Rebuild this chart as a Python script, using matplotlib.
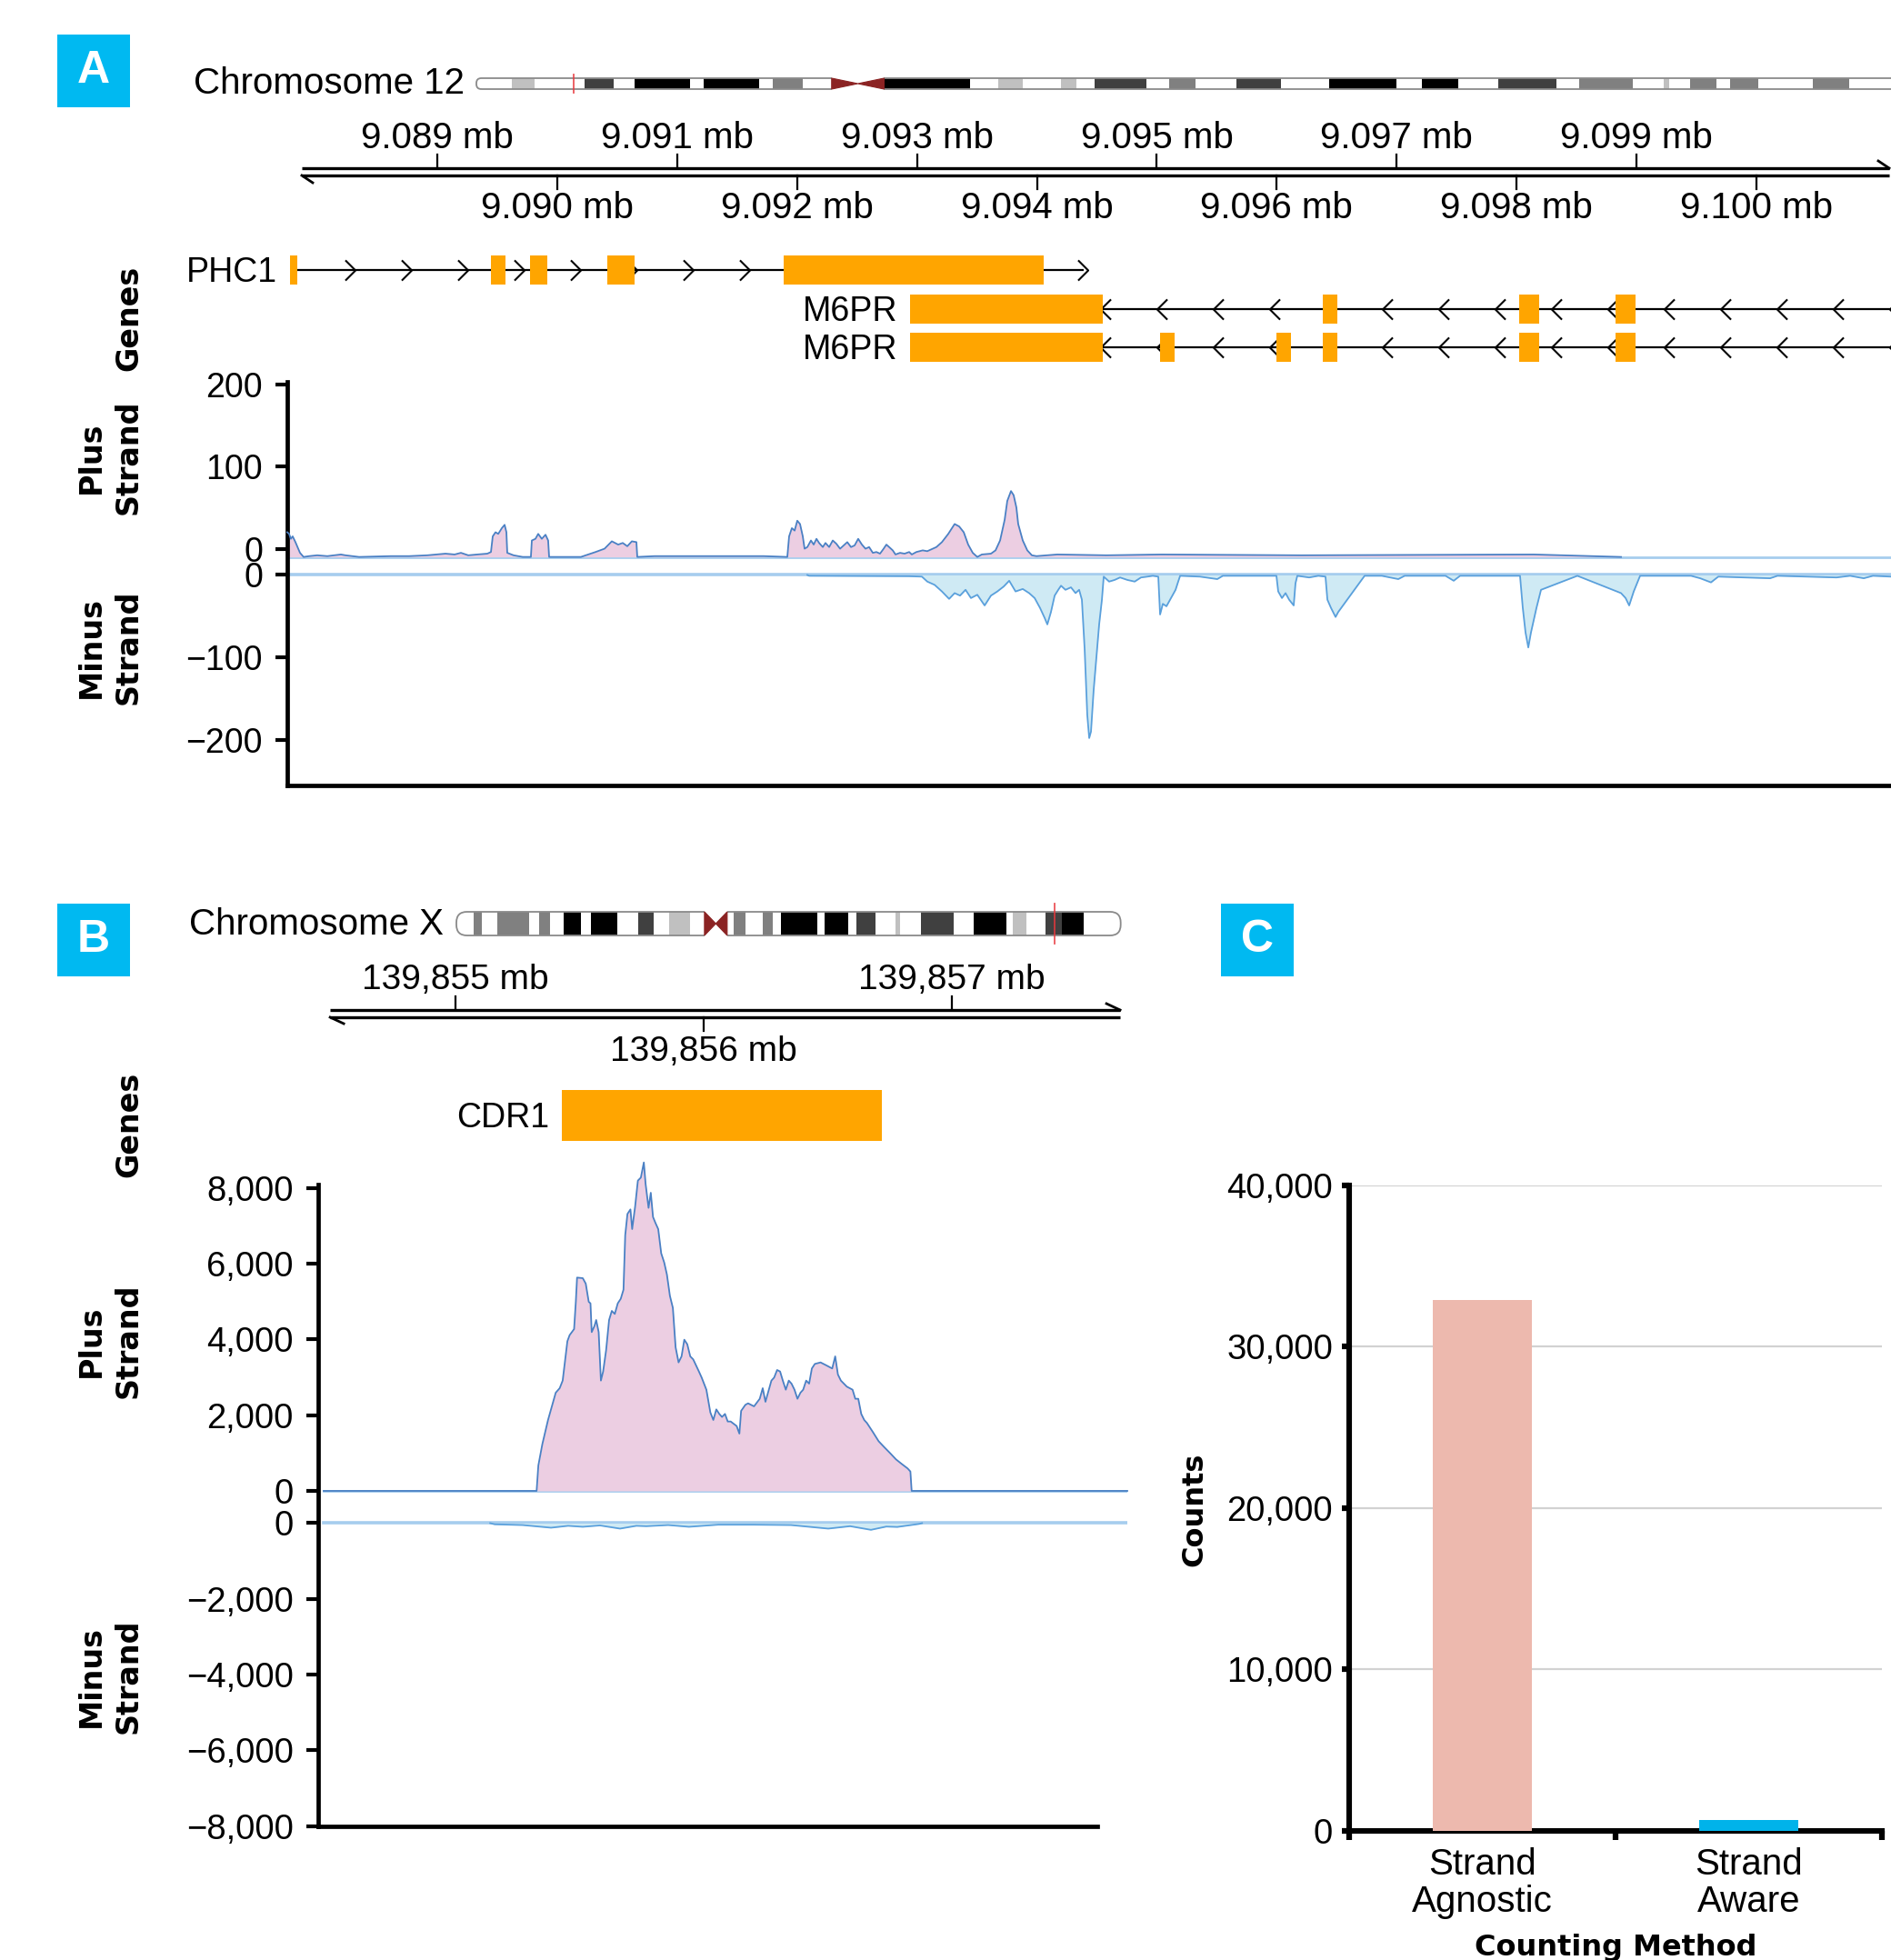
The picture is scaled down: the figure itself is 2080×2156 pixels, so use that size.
import numpy as np
import matplotlib
matplotlib.use("Agg")
import matplotlib.pyplot as plt
from matplotlib.patches import Rectangle, FancyBboxPatch, Polygon
from matplotlib.path import Path

plt.rcParams['font.family'] = ['Liberation Sans', 'DejaVu Sans']

# ---------------- ideogram bands (Mb, stain) ----------------
STAIN = {'gneg': '#ffffff', 'gpos25': '#c0c0c0', 'gpos50': '#808080',
         'gpos75': '#404040', 'gpos100': '#000000'}
ACEN = '#8b2323'

CHR12_LEN = 133.85
CHR12_BANDS = [
    (0.0, 3.3, 'gneg'), (3.3, 5.4, 'gpos25'), (5.4, 10.1, 'gneg'), (10.1, 12.8, 'gpos75'),
    (12.8, 14.8, 'gneg'), (14.8, 20.0, 'gpos100'), (20.0, 21.2, 'gneg'), (21.2, 26.4, 'gpos100'),
    (26.4, 27.7, 'gneg'), (27.7, 30.5, 'gpos50'), (30.5, 33.2, 'gneg'), (33.2, 38.1, 'acen'),
    (38.1, 46.1, 'gpos100'), (46.1, 48.8, 'gneg'), (48.8, 51.1, 'gpos25'), (51.1, 54.6, 'gneg'),
    (54.6, 56.1, 'gpos25'), (56.1, 57.8, 'gneg'), (57.8, 62.6, 'gpos75'), (62.6, 64.7, 'gneg'),
    (64.7, 67.2, 'gpos50'), (67.2, 71.0, 'gneg'), (71.0, 75.2, 'gpos75'), (75.2, 79.7, 'gneg'),
    (79.7, 86.0, 'gpos100'), (86.0, 88.4, 'gneg'), (88.4, 91.8, 'gpos100'), (91.8, 95.5, 'gneg'),
    (95.5, 100.9, 'gpos75'), (100.9, 103.1, 'gneg'), (103.1, 108.1, 'gpos50'), (108.1, 111.0, 'gneg'),
    (111.0, 111.5, 'gpos25'), (111.5, 113.4, 'gneg'), (113.4, 115.9, 'gpos50'), (115.9, 117.2, 'gneg'),
    (117.2, 119.8, 'gpos50'), (119.8, 124.9, 'gneg'), (124.9, 128.3, 'gpos50'), (128.3, 133.85, 'gneg'),
]

CHRX_LEN = 155.3
CHRX_BANDS = [
    (0.0, 4.1, 'gneg'), (4.1, 6.0, 'gpos50'), (6.0, 9.6, 'gneg'), (9.6, 17.0, 'gpos50'),
    (17.0, 19.3, 'gneg'), (19.3, 21.9, 'gpos50'), (21.9, 25.1, 'gneg'), (25.1, 29.1, 'gpos100'),
    (29.1, 31.5, 'gneg'), (31.5, 37.6, 'gpos100'), (37.6, 42.5, 'gneg'), (42.5, 46.1, 'gpos75'),
    (46.1, 49.7, 'gneg'), (49.7, 54.6, 'gpos25'), (54.6, 58.0, 'gneg'), (58.0, 63.3, 'acen'),
    (63.3, 64.9, 'gneg'), (64.9, 67.6, 'gpos50'), (67.6, 71.6, 'gneg'), (71.6, 74.0, 'gpos50'),
    (74.0, 75.9, 'gneg'), (75.9, 84.4, 'gpos100'), (84.4, 86.1, 'gneg'), (86.1, 91.7, 'gpos100'),
    (91.7, 93.5, 'gneg'), (93.5, 98.0, 'gpos75'), (98.0, 102.7, 'gneg'), (102.7, 103.7, 'gpos25'),
    (103.7, 108.7, 'gneg'), (108.7, 116.3, 'gpos75'), (116.3, 120.9, 'gneg'), (120.9, 128.5, 'gpos100'),
    (128.5, 130.1, 'gneg'), (130.1, 133.3, 'gpos25'), (133.3, 137.7, 'gneg'), (137.7, 141.5, 'gpos75'),
    (141.5, 146.7, 'gpos100'), (146.7, 155.3, 'gneg'),
]

# ---------------- panel A: chr12 PHC1 / M6PR ----------------
A_START = 9_087_750
A_END = 9_101_121
A_MARK_MB = 9.09
A_TICKS_TOP = [9_089_000, 9_091_000, 9_093_000, 9_095_000, 9_097_000, 9_099_000]
A_TICKS_BOT = [9_090_000, 9_092_000, 9_094_000, 9_096_000, 9_098_000, 9_100_000]

PHC1_SPAN = (9_087_773, 9_094_390)
PHC1_EXONS = [(9_087_773, 9_087_833), (9_089_448, 9_089_569), (9_089_774, 9_089_918),
              (9_090_418, 9_090_646), (9_091_889, 9_094_057)]
M6PR_SPAN = (9_092_942, 9_101_600)
M6PR_EXONS_1 = [(9_092_942, 9_094_549), (9_096_384, 9_096_505), (9_098_021, 9_098_188),
                (9_098_824, 9_098_991)]
M6PR_EXONS_2 = [(9_092_942, 9_094_549), (9_095_027, 9_095_148), (9_095_997, 9_096_118),
                (9_096_384, 9_096_505), (9_098_021, 9_098_188), (9_098_824, 9_098_991)]

# coverage: (bp offset from A_START, reads)
A_PLUS = [(0, 30), (15, 28), (30, 22), (45, 25), (68, 18), (106, 5), (136, 0), (182, 1), (250, 2),
          (334, 1), (447, 3), (485, 2), (599, 0), (864, 1), (1016, 1), (1167, 2), (1319, 4), (1395, 3),
          (1448, 5), (1509, 2), (1584, 3), (1668, 4), (1698, 6), (1713, 25), (1736, 30), (1759, 28),
          (1789, 35), (1812, 39), (1827, 30), (1834, 5), (1887, 2), (1963, 0), (2031, 0), (2039, 20),
          (2069, 22), (2092, 28), (2122, 22), (2153, 27), (2175, 20), (2183, 0), (2304, 0), (2448, 0),
          (2570, 6), (2645, 10), (2706, 19), (2759, 15), (2797, 17), (2835, 13), (2873, 19), (2911, 18),
          (2918, 0), (3062, 1), (3517, 1), (3972, 1), (4169, 0), (4184, 25), (4207, 35), (4230, 32),
          (4252, 44), (4275, 40), (4298, 25), (4313, 10), (4336, 12), (4366, 20), (4389, 15), (4412, 22),
          (4434, 17), (4465, 12), (4487, 17), (4518, 12), (4548, 20), (4578, 16), (4609, 10), (4639, 14),
          (4669, 18), (4700, 12), (4730, 14), (4760, 22), (4791, 15), (4821, 10), (4851, 12), (4882, 5),
          (4912, 6), (4942, 4), (4972, 10), (4995, 15), (5018, 12), (5048, 8), (5071, 3), (5109, 5),
          (5147, 4), (5185, 6), (5207, 3), (5245, 6), (5298, 8), (5336, 7), (5412, 12), (5458, 18),
          (5511, 28), (5564, 40), (5602, 37), (5640, 30), (5677, 15), (5715, 5), (5753, 0), (5791, 3),
          (5867, 4), (5905, 8), (5943, 20), (5981, 45), (6003, 68), (6034, 80), (6056, 75), (6079, 60),
          (6094, 40), (6132, 20), (6170, 8), (6208, 2), (6246, 1), (6420, 3), (6829, 2), (7292, 3),
          (8452, 2), (10392, 3), (11120, 0)]
A_MINUS = [(4336, 0), (4351, -1), (5185, -1.5), (5291, -2), (5336, -8), (5397, -12), (5458, -20),
           (5518, -29), (5564, -22), (5609, -25), (5655, -18), (5700, -28), (5753, -24), (5814, -37),
           (5867, -25), (5920, -20), (5973, -14), (6019, -7), (6072, -20), (6132, -17), (6185, -22),
           (6231, -28), (6276, -40), (6314, -52), (6337, -60), (6367, -45), (6398, -25), (6428, -18),
           (6451, -13), (6488, -18), (6534, -15), (6572, -22), (6602, -18), (6625, -30), (6648, -90),
           (6670, -170), (6686, -198), (6701, -190), (6723, -140), (6746, -100), (6769, -60), (6792, -30),
           (6807, -2), (6852, -8), (6898, -6), (6943, -3), (7004, -6), (7065, -8), (7118, -3), (7171, -2),
           (7216, -1), (7262, -2), (7277, -48), (7300, -35), (7330, -38), (7368, -28), (7406, -18),
           (7428, -8), (7444, -1), (7610, -2), (7754, -5), (7800, -1), (8247, -1), (8262, -20), (8293, -28),
           (8323, -22), (8353, -30), (8391, -37), (8406, -10), (8421, -1), (8520, -3), (8596, -1),
           (8656, -2), (8672, -30), (8702, -40), (8740, -51), (8762, -45), (8982, -1), (9126, -1),
           (9263, -5), (9316, -1), (9657, -1), (9725, -7), (9778, -1), (10278, -1), (10301, -40),
           (10324, -70), (10347, -88), (10369, -70), (10415, -40), (10453, -18), (10756, -1), (11120, -22),
           (11158, -28), (11188, -37), (11226, -20), (11279, -1), (11704, -1), (11780, -4), (11870, -9),
           (11931, -2), (12363, -4), (12424, -1), (12916, -3), (13030, -1), (13144, -4), (13220, -1),
           (13371, -2)]
A_YTICKS = [200, 100, 0]

# ---------------- panel B: chrX CDR1 ----------------
B_REF = 139_855_000
B_MARK_MB = 139.86
B_TICKS_TOP = [139_855_000, 139_857_000]
B_TICKS_BOT = [139_856_000]
CDR1_EXON = (139_855_429, 139_856_718)

# coverage: (bp offset from B_REF, reads)
B_PLUS = [(-531, 0), (327, 0), (334, 672), (350, 1232), (373, 1872), (404, 2592), (420, 2712),
          (432, 2912), (451, 3952), (460, 4112), (478, 4272), (485, 4992), (490, 5632), (513, 5616),
          (525, 5472), (537, 4992), (544, 4952), (549, 4192), (560, 4352), (567, 4512), (577, 4192),
          (586, 2912), (595, 3152), (607, 3712), (619, 4512), (630, 4752), (642, 4672), (654, 4952),
          (666, 5072), (677, 5312), (684, 6752), (693, 7312), (705, 7432), (712, 6912), (724, 7512),
          (735, 8192), (747, 8272), (759, 8672), (766, 8112), (778, 7472), (787, 7872), (796, 7232),
          (806, 7072), (817, 6912), (829, 6272), (841, 6032), (852, 5712), (864, 5152), (876, 4832),
          (887, 3792), (899, 3392), (911, 3552), (922, 3992), (934, 3872), (946, 3552), (958, 3472),
          (981, 3152), (992, 2992), (1011, 2672), (1027, 2072), (1039, 1872), (1051, 2152), (1063, 2032),
          (1074, 1952), (1086, 2032), (1097, 1832), (1109, 1832), (1133, 1712), (1144, 1512), (1151, 2112),
          (1168, 2272), (1179, 2312), (1203, 2232), (1226, 2432), (1238, 2712), (1249, 2352), (1261, 2632),
          (1273, 2912), (1284, 2992), (1296, 3192), (1308, 3152), (1319, 2912), (1331, 2672), (1343, 2912),
          (1354, 2832), (1366, 2672), (1378, 2432), (1390, 2592), (1401, 2672), (1413, 2912), (1425, 2832),
          (1436, 3232), (1448, 3352), (1471, 3392), (1495, 3312), (1518, 3232), (1530, 3552), (1541, 3072),
          (1553, 2912), (1577, 2752), (1600, 2672), (1611, 2432), (1623, 2432), (1635, 2032), (1647, 1872),
          (1658, 1792), (1682, 1552), (1705, 1312), (1728, 1152), (1752, 992), (1775, 832), (1798, 712),
          (1822, 592), (1833, 512), (1838, 0), (2707, 0)]
B_MINUS = [(140, 0), (158, -30), (271, -50), (385, -120), (454, -70), (513, -96), (582, -60),
           (663, -144), (729, -70), (769, -80), (857, -50), (941, -96), (1059, -40), (1201, -40),
           (1352, -50), (1502, -144), (1590, -80), (1674, -176), (1736, -90), (1780, -100), (1868, -20),
           (1880, 0)]
B_YTICKS = [8000, 6000, 4000, 2000, 0]

# ---------------- panel C: counts ----------------
C_METHODS = ['Strand\nAgnostic', 'Strand\nAware']
C_COUNTS = [32900, 650]
C_COLORS = ['#edb9ae', '#00b3ea']

# ---------------- styling ----------------
W, H = 2080, 2156
CYAN = '#00b9f1'
ORANGE = '#ffa500'
PINK = '#ecceE2'
PLUS_LINE = '#4a80c4'
MINUS_FILL = '#cfeaf4'
MINUS_LINE = '#5aa0dc'
BASE_LIGHT = '#a6cdee'
BOLD = dict(family='DejaVu Sans', fontweight='bold')

fig = plt.figure(figsize=(W / 100, H / 100), dpi=100)
fig.patch.set_facecolor('white')


def px_axes(x0, y0, x1, y1):
    return fig.add_axes([x0 / W, 1 - y1 / H, (x1 - x0) / W, (y1 - y0) / H])


def ftext(x, y, s, **kw):
    fig.text(x / W, 1 - y / H, s, **kw)


def minus_fmt(v):
    return f"{v:,}".replace('-', '\u2212')


def ideogram(x_chr0, ppm, x_ax0, x_ax1, y_mid, band_h, bands, length, mark):
    pad = 0.4
    ax = px_axes(x_ax0, y_mid - band_h * (0.5 + pad), x_ax1, y_mid + band_h * (0.5 + pad))
    ax.set_xlim((x_ax0 - x_chr0) / ppm, (x_ax1 - x_chr0) / ppm)
    ax.set_ylim(-pad, 1 + pad)
    ax.axis('off')
    r_px = 0.45 * band_h
    rs = r_px / ppm
    outline = FancyBboxPatch((0, 0), length, 1, boxstyle=f"round,pad=0,rounding_size={rs}",
                             mutation_aspect=(r_px / band_h) / rs, fc='none', ec='#8a8a8a',
                             lw=1.3, zorder=3)
    ax.add_patch(outline)
    for s, e, stain in bands:
        if stain == 'acen':
            continue
        r = Rectangle((s, 0), e - s, 1, fc=STAIN[stain], lw=0, zorder=1)
        ax.add_patch(r)
        r.set_clip_path(outline)
    for s, e, stain in bands:
        if stain != 'acen':
            continue
        m = (s + e) / 2
        ax.add_patch(Rectangle((s, -0.2), e - s, 1.4, fc='white', lw=0, zorder=4))
        ax.add_patch(Polygon([(s, 0), (s, 1), (m, 0.5)], fc=ACEN, ec=ACEN, lw=0.8, zorder=5))
        ax.add_patch(Polygon([(e, 0), (e, 1), (m, 0.5)], fc=ACEN, ec=ACEN, lw=0.8, zorder=5))
    ax.plot([mark, mark], [-0.35, 1.35], color='#e8383d', lw=1.3, alpha=0.85, zorder=6)
    return ax


def ruler(ax, x0, x1, y_top, y_bot, ticks_top, ticks_bot, fmt, tick_len, base_top, base_bot,
          barb, size):
    bp_px = np.diff(ax.get_xlim())[0] / (ax.get_position().width * W)
    ax.plot([x0, x1], [y_top, y_top], color='black', lw=2.4, solid_capstyle='butt')
    ax.plot([x0, x1], [y_bot, y_bot], color='black', lw=2.4, solid_capstyle='butt')
    ax.plot([x1, x1 - barb[0] * bp_px], [y_top, y_top - barb[1]], color='black', lw=2)
    ax.plot([x0, x0 + barb[0] * bp_px], [y_bot, y_bot + barb[1]], color='black', lw=2)
    for t in ticks_top:
        ax.plot([t, t], [y_top, y_top - tick_len], color='black', lw=1.6)
        ax.text(t, base_top, fmt(t), ha='center', va='baseline', fontsize=size)
    for t in ticks_bot:
        ax.plot([t, t], [y_bot, y_bot + tick_len], color='black', lw=1.6)
        ax.text(t, base_bot, fmt(t), ha='center', va='baseline', fontsize=size)


def coverage(ax, ref, plus, minus, plus_base, minus_base, span):
    xp, vp = np.array(plus, float).T
    xm, vm = np.array(minus, float).T
    xp += ref
    xm += ref
    lo, hi = ref + span[0], ref + span[1]
    ax.plot([lo, hi], [plus_base, plus_base], color=BASE_LIGHT, lw=2, zorder=1)
    ax.plot([lo, hi], [minus_base, minus_base], color=BASE_LIGHT, lw=2.6, zorder=1)
    ax.fill_between(xp, plus_base, plus_base + vp, color=PINK, lw=0, zorder=2, clip_on=False)
    ax.plot(xp, plus_base + vp, color=PLUS_LINE, lw=1.3, zorder=3, clip_on=False)
    ax.fill_between(xm, minus_base, minus_base + vm, color=MINUS_FILL, lw=0, zorder=2)
    ax.plot(xm, minus_base + vm, color=MINUS_LINE, lw=1.3, zorder=3)


def style_track_axes(ax, size, spine_w=3.4):
    for side in ('top', 'right'):
        ax.spines[side].set_visible(False)
    for side in ('left', 'bottom'):
        ax.spines[side].set_linewidth(spine_w)
    ax.set_xticks([])
    ax.tick_params(axis='y', length=9.5, width=3, pad=10, labelsize=size)


def gene(ax, y, span, exons, name, step, first, h, direction):
    if direction:
        ax.plot(span, [y, y], color='black', lw=1.6, zorder=1, solid_capstyle='butt')
        verts = [(-0.5, 1), (0.5, 0), (-0.5, -1)] if direction > 0 else [(0.5, 1), (-0.5, 0), (0.5, -1)]
        chev = Path(verts, [Path.MOVETO, Path.LINETO, Path.LINETO])
        xs = np.arange(first, span[1], step)
        ax.plot(xs, np.full(len(xs), y), ls='none', marker=chev, ms=16, mfc='none',
                mec='black', mew=1.5, zorder=2)
    for s, e in exons:
        ax.add_patch(Rectangle((s, y - h / 2), e - s, h, fc=ORANGE, lw=0, zorder=3))
    ax.annotate(name, (span[0], y), xytext=(-10, -9.5), textcoords='offset points',
                ha='right', va='baseline', fontsize=27)


# ================= panel letters =================
for letter, (x, y) in (('A', (63, 38)), ('B', (63, 994)), ('C', (1343, 994))):
    fig.add_artist(Rectangle((x / W, 1 - (y + 80) / H), 80 / W, 80 / H,
                             transform=fig.transFigure, color=CYAN, lw=0))
    ftext(x + 40, y + 40, letter, color='white', fontsize=36, fontweight='bold',
          ha='center', va='center')

# ================= panel A =================
ftext(511, 103, 'Chromosome 12', ha='right', va='baseline', fontsize=29)
ideogram(524, 11.77, 518, 2080, 92, 12, CHR12_BANDS, CHR12_LEN, A_MARK_MB)

axRA = px_axes(316, 125, 2080, 250)
axRA.set_xlim(A_START, A_END)
axRA.set_ylim(250, 125)
axRA.axis('off')
ruler(axRA, 9_087_871, 9_101_106, 185, 193, A_TICKS_TOP, A_TICKS_BOT,
      lambda t: f"{t / 1e6:.3f} mb", 15, 163, 240, (12, 8), 29)

axGA = px_axes(316, 270, 2080, 410)
axGA.set_xlim(A_START, A_END)
axGA.set_ylim(410, 270)
axGA.axis('off')
gene(axGA, 297, PHC1_SPAN, PHC1_EXONS, 'PHC1', 470, 9_088_272, 32, 1)
gene(axGA, 340, M6PR_SPAN, M6PR_EXONS_1, 'M6PR', 470, 9_094_573, 32, -1)
gene(axGA, 382, M6PR_SPAN, M6PR_EXONS_2, 'M6PR', 470, 9_094_573, 32, -1)

axA = px_axes(316, 420, 2080, 864)
axA.set_xlim(A_START, A_END)
axA.set_ylim(-255.5, 234.5)
A_PLUS_AXIS, A_PLUS_BASE = 31.5, 21.9
coverage(axA, A_START, A_PLUS, A_MINUS, A_PLUS_BASE, 0, (0, A_END - A_START))
style_track_axes(axA, 27)
axA.set_yticks([A_PLUS_AXIS + v for v in A_YTICKS] + [-v for v in A_YTICKS],
               [minus_fmt(v) for v in A_YTICKS] + [minus_fmt(-v) for v in A_YTICKS])

ftext(142, 350, 'Genes', rotation=90, ha='center', va='center', fontsize=24, **BOLD)
ftext(121, 503, 'Plus\nStrand', rotation=90, ha='center', va='center', fontsize=24,
      multialignment='center', linespacing=1.3, **BOLD)
ftext(121, 712, 'Minus\nStrand', rotation=90, ha='center', va='center', fontsize=24,
      multialignment='center', linespacing=1.3, **BOLD)

# ================= panel B =================
ftext(488, 1028, 'Chromosome X', ha='right', va='baseline', fontsize=29)
ideogram(502, 4.705, 496, 1240, 1016, 26, CHRX_BANDS, CHRX_LEN, B_MARK_MB)

B_XLIM = (B_REF - 553, B_REF + 2707)
axRB = px_axes(350, 1050, 1240, 1175)
axRB.set_xlim(*B_XLIM)
axRB.set_ylim(1175, 1050)
axRB.axis('off')
ruler(axRB, B_REF - 505, B_REF + 2678, 1111, 1119, B_TICKS_TOP, B_TICKS_BOT,
      lambda t: f"{t / 1000:,.0f} mb", 15, 1088, 1167, (15, 7), 28)

axGB = px_axes(350, 1180, 1240, 1280)
axGB.set_xlim(*B_XLIM)
axGB.set_ylim(1280, 1180)
axGB.axis('off')
gene(axGB, 1227, CDR1_EXON, [CDR1_EXON], 'CDR1', 0, 0, 56, 0)

axB = px_axes(350, 1303, 1240, 2008.8)
axB.set_xlim(*B_XLIM)
axB.set_ylim(-8000, 8940)
B_PLUS_BASE = 852
coverage(axB, B_REF, B_PLUS, B_MINUS, B_PLUS_BASE, 0, (-531, 2707))
style_track_axes(axB, 27.5)
axB.spines['bottom'].set_bounds(B_XLIM[0], B_REF + 2586)
axB.set_yticks([B_PLUS_BASE + v for v in B_YTICKS] + [-v for v in B_YTICKS],
               [minus_fmt(v) for v in B_YTICKS] + [minus_fmt(-v) for v in B_YTICKS])

ftext(142, 1237, 'Genes', rotation=90, ha='center', va='center', fontsize=24, **BOLD)
ftext(121, 1475, 'Plus\nStrand', rotation=90, ha='center', va='center', fontsize=24,
      multialignment='center', linespacing=1.3, **BOLD)
ftext(121, 1844, 'Minus\nStrand', rotation=90, ha='center', va='center', fontsize=24,
      multialignment='center', linespacing=1.3, **BOLD)

# ================= panel C =================
axC = px_axes(1484, 1304, 2070, 2013.5)
xc = np.arange(len(C_COUNTS)) + 0.5
axC.bar(xc, C_COUNTS, width=0.37, color=C_COLORS, zorder=3)
axC.set_xlim(0, len(C_COUNTS))
axC.set_ylim(0, 40000)
axC.set_yticks(range(0, 40001, 10000), [f"{v:,}" for v in range(0, 40001, 10000)])
axC.set_xticks(np.arange(len(C_COUNTS) + 1), [])
axC.set_xticks(xc, C_METHODS, minor=True)
axC.tick_params(axis='y', length=6, width=4.5, pad=7, labelsize=27.5)
axC.tick_params(axis='x', which='major', length=7, width=4.5)
axC.tick_params(axis='x', which='minor', length=0, pad=13, labelsize=29)
for lbl in axC.get_xticklabels(minor=True):
    lbl.set_linespacing(1.1)
for side in ('top', 'right'):
    axC.spines[side].set_visible(False)
for side in ('left', 'bottom'):
    axC.spines[side].set_linewidth(4.4)
axC.yaxis.grid(True, color='#d2d2d2', lw=1.6)
axC.set_axisbelow(True)

ftext(1314, 1660, 'Counts', rotation=90, ha='center', va='center', fontsize=23, **BOLD)
ftext(1777, 2142, 'Counting Method', ha='center', va='center', fontsize=23, **BOLD)

fig.savefig('out.png', dpi=100)
